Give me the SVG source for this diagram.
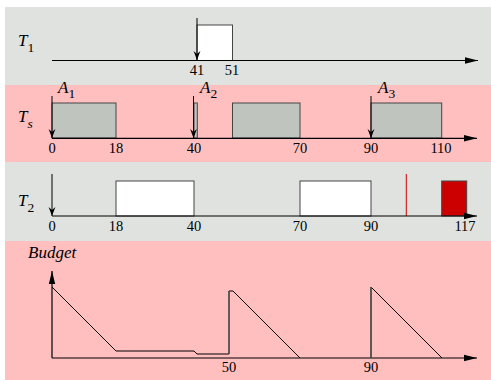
<svg xmlns="http://www.w3.org/2000/svg" width="491" height="380" viewBox="0 0 491 380">
<defs>
<marker id="ah" markerWidth="14" markerHeight="8" refX="13" refY="4" orient="auto" markerUnits="userSpaceOnUse">
<path d="M0,0.8 L13,4 L0,7.2 Z" fill="#000"/>
</marker>
<marker id="dh" markerWidth="10" markerHeight="8" refX="9" refY="4" orient="auto" markerUnits="userSpaceOnUse">
<path d="M0,0.6 L9,4 L0,7.4 L3,4 Z" fill="#000"/>
</marker>
<style>
.gray{fill:#dfe2df}
.pink{fill:#ffbfbf}
.axis{stroke:#000;stroke-width:1.2;fill:none}
.num{font-family:"Liberation Serif",serif;font-size:14.5px;fill:#000;text-anchor:middle}
.lab{font-family:"Liberation Serif",serif;font-style:italic;font-size:17px;fill:#000}
.sub{font-size:13.5px;font-style:normal}
.subi{font-size:13.5px}
.gbox{fill:#c0c4bf;stroke:#444;stroke-width:1}
.wbox{fill:#fff;stroke:#444;stroke-width:1}
.rbox{fill:#cc0000;stroke:#444;stroke-width:1}
.arr{stroke:#000;stroke-width:1}
.line{stroke:#000;stroke-width:1;fill:none}
</style>
</defs>
<rect class="gray" x="5" y="7" width="486" height="78"/>
<rect class="pink" x="5" y="85" width="486" height="77"/>
<rect class="gray" x="5" y="162" width="486" height="79"/>
<rect class="pink" x="5" y="241" width="486" height="139"/>

<g id="T1">
<text class="lab" x="18" y="46">T<tspan class="sub" dy="6">1</tspan></text>
<rect class="wbox" x="197" y="25" width="35.5" height="35.5"/>
<line class="axis" x1="52" y1="60.5" x2="478" y2="60.5" marker-end="url(#ah)"/>
<line class="arr" x1="197" y1="18" x2="197" y2="60" marker-end="url(#dh)"/>
<text class="num" x="197" y="75">41</text>
<text class="num" x="232" y="75">51</text>
</g>

<g id="Ts">
<text class="lab" x="18" y="122">T<tspan class="subi" dy="6">s</tspan></text>
<rect class="gbox" x="52" y="103" width="64" height="35"/>
<rect class="gbox" x="194" y="103" width="3.3" height="35"/>
<rect class="gbox" x="232.5" y="103" width="67.5" height="35"/>
<rect class="gbox" x="371" y="103" width="70.7" height="35"/>
<line class="axis" x1="52" y1="138.3" x2="477" y2="138.3" marker-end="url(#ah)"/>
<line class="arr" x1="52" y1="96" x2="52" y2="138" stroke="#7a1a1a" marker-end="url(#dh)"/>
<line class="arr" x1="193.5" y1="96" x2="193.5" y2="138" marker-end="url(#dh)"/>
<line class="arr" x1="371" y1="96" x2="371" y2="138" marker-end="url(#dh)"/>
<text class="lab" x="58" y="93">A<tspan class="sub" dy="5">1</tspan></text>
<text class="lab" x="200" y="93">A<tspan class="sub" dy="5">2</tspan></text>
<text class="lab" x="378" y="93">A<tspan class="sub" dy="5">3</tspan></text>
<text class="num" x="52" y="153">0</text>
<text class="num" x="116" y="153">18</text>
<text class="num" x="194" y="153">40</text>
<text class="num" x="300" y="153">70</text>
<text class="num" x="371" y="153">90</text>
<text class="num" x="441" y="153">110</text>
</g>

<g id="T2">
<text class="lab" x="18" y="206">T<tspan class="sub" dy="6">2</tspan></text>
<rect class="wbox" x="116" y="181" width="78" height="35"/>
<rect class="wbox" x="300" y="181" width="71" height="35"/>
<rect class="rbox" x="441.7" y="181" width="25" height="35"/>
<line x1="406.3" y1="174" x2="406.3" y2="216" stroke="#d00000" stroke-width="1"/>
<line class="axis" x1="52" y1="216" x2="477" y2="216" marker-end="url(#ah)"/>
<line class="arr" x1="52" y1="174" x2="52" y2="216" stroke="#7a1a1a" marker-end="url(#dh)"/>
<text class="num" x="52" y="231">0</text>
<text class="num" x="116" y="231">18</text>
<text class="num" x="194" y="231">40</text>
<text class="num" x="300" y="231">70</text>
<text class="num" x="371" y="231">90</text>
<text class="num" x="465" y="231">117</text>
</g>

<g id="Budget">
<text class="lab" x="28" y="258" font-size="16">Budget</text>
<line class="axis" x1="52" y1="358" x2="52" y2="271" marker-end="url(#ah)"/>
<line class="axis" x1="52" y1="358" x2="477" y2="358" marker-end="url(#ah)"/>
<polyline class="line" points="52,287 116,351 194,351 197,354 229,354 229,291 233,291 300,358"/>
<polyline class="line" points="371,358 371,287 442,358"/>
<line x1="371" y1="358" x2="371" y2="287" stroke="#555" stroke-width="1.5"/>
<line x1="229" y1="354" x2="229" y2="291" stroke="#555" stroke-width="1.3"/>
<text class="num" x="229" y="372">50</text>
<text class="num" x="371" y="372">90</text>
</g>
</svg>
